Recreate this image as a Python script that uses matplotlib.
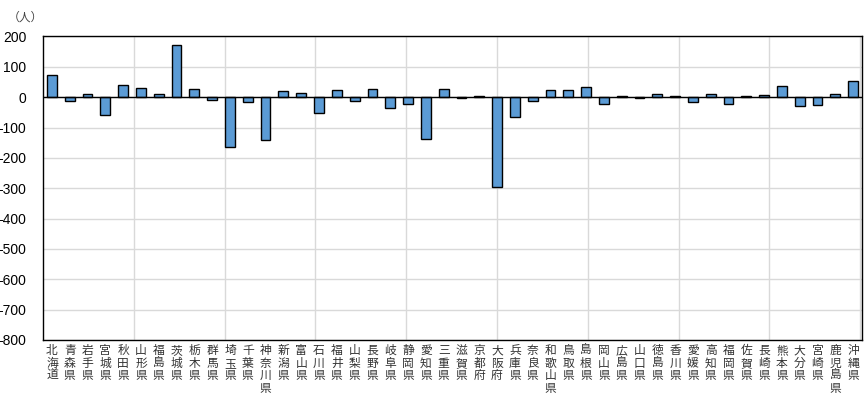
import matplotlib
matplotlib.use("Agg")
import matplotlib.pyplot as plt
import numpy as np

plt.rcParams['font.family'] = ['Liberation Sans', 'Noto Sans CJK JP', 'DejaVu Sans']

# 都道府県
prefectures = [
    "北海道", "青森県", "岩手県", "宮城県", "秋田県", "山形県", "福島県",
    "茨城県", "栃木県", "群馬県", "埼玉県", "千葉県", "神奈川県", "新潟県",
    "富山県", "石川県", "福井県", "山梨県", "長野県", "岐阜県", "静岡県",
    "愛知県", "三重県", "滋賀県", "京都府", "大阪府", "兵庫県", "奈良県",
    "和歌山県", "鳥取県", "島根県", "岡山県", "広島県", "山口県", "徳島県",
    "香川県", "愛媛県", "高知県", "福岡県", "佐賀県", "長崎県", "熊本県",
    "大分県", "宮崎県", "鹿児島県", "沖縄県",
]

# 人数（増減）
values = [
    73, -13, 10, -59, 40, 30, 10,
    172, 26, -10, -165, -16, -142, 20,
    13, -51, 23, -13, 26, -34, -23,
    -138, 26, -4, 3, -295, -66, -13,
    23, 23, 33, -23, 3, -4, 12,
    3, -16, 12, -23, 3, 7, 36,
    -30, -26, 12, 53,
]

y_ticks = [200, 100, 0, -100, -200, -300, -400, -500, -600, -700, -800]

fig = plt.figure(figsize=(8.66, 4.17), dpi=100)
ax = fig.add_axes([0.0497, 0.1847, 0.9457, 0.7278])

x = np.arange(len(prefectures))
ax.bar(x, values, width=0.55, color='#5B9BD5', edgecolor='black', linewidth=1.0, zorder=3)

ax.set_xlim(-0.5, len(prefectures) - 0.5)
ax.set_ylim(-800, 200)
ax.set_yticks(y_ticks)
ax.set_yticklabels([str(v) for v in y_ticks], fontsize=10)
ax.tick_params(axis='y', length=0, pad=12)
ax.tick_params(axis='x', length=0, pad=3)

# horizontal grid
ax.yaxis.grid(True, color='#D9D9D9', linewidth=1.0, zorder=0)
ax.set_axisbelow(True)
# vertical grid lines (not aligned to categories)
for k in range(1, 10):
    ax.axvline(-0.5 + k * 5.1, color='#D9D9D9', linewidth=1.0, zorder=0)

ax.axhline(0, color='black', linewidth=1.0, zorder=4)

for s in ax.spines.values():
    s.set_color('black')
    s.set_linewidth(1.0)

ax.set_xticks(x)
ax.set_xticklabels(["\n".join(p) for p in prefectures],
                   family=['Noto Sans CJK JP', 'DejaVu Sans'],
                   fontsize=8.5, linespacing=0.95, va='top', color='#333333')

fig.text(0.009, 0.958, "（人）", family=['Noto Sans CJK JP', 'DejaVu Sans'],
         fontsize=8.5, color='#444444', va='center', ha='left')

fig.savefig("out.png", dpi=100)
